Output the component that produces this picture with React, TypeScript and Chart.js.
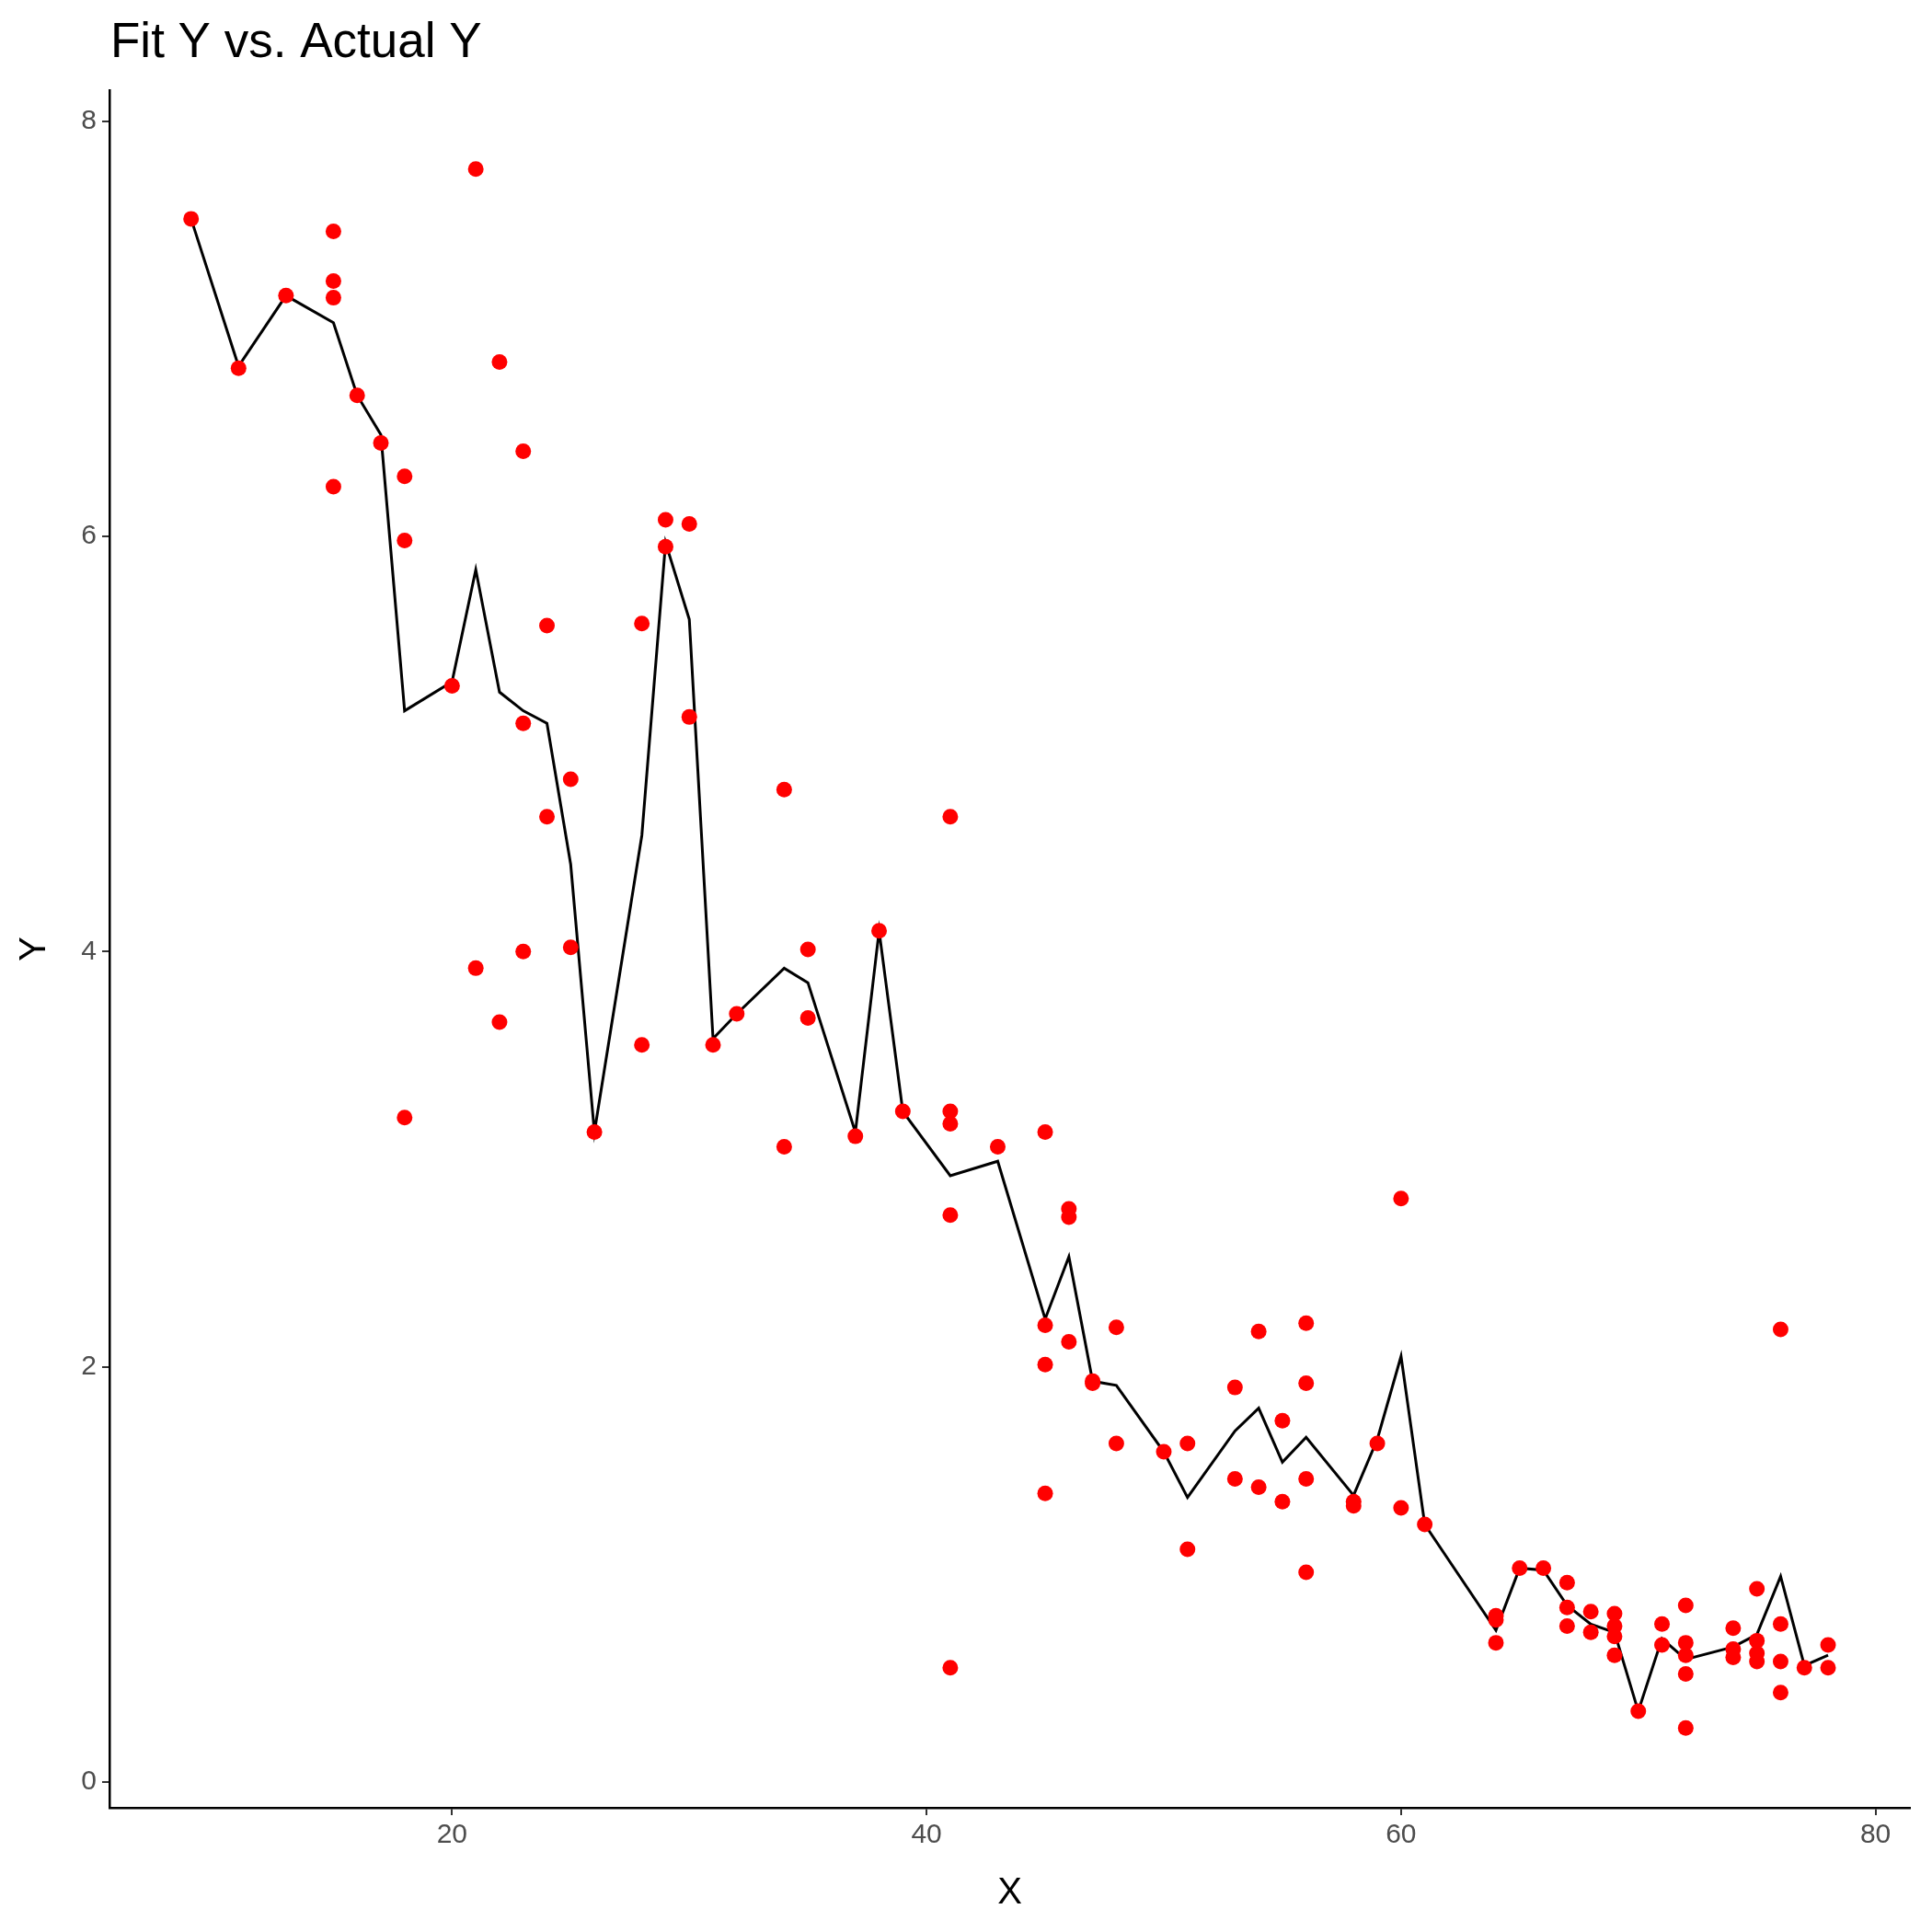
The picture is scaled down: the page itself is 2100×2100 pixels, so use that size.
import { useEffect, useRef } from "react";
import Chart from "chart.js/auto";

// actual observations
const actualX = [9, 11, 13, 15, 15, 15, 15, 16, 17, 18, 18, 18, 20, 21, 21, 22, 22, 23, 23, 23, 24, 24, 25, 25, 26, 28, 28, 29, 29, 30, 30, 31, 32, 34, 34, 35, 35, 37, 38, 39, 41, 41, 41, 41, 41, 43, 45, 45, 45, 45, 46, 46, 46, 47, 47, 48, 48, 50, 51, 51, 53, 53, 54, 54, 55, 55, 56, 56, 56, 56, 58, 58, 59, 60, 60, 61, 64, 64, 64, 65, 66, 67, 67, 67, 68, 68, 69, 69, 69, 69, 70, 71, 71, 72, 72, 72, 72, 72, 74, 74, 74, 75, 75, 75, 75, 76, 76, 76, 76, 77, 78, 78];
const actualY = [7.53, 6.81, 7.16, 7.47, 7.23, 7.15, 6.24, 6.68, 6.45, 6.29, 5.98, 3.2, 5.28, 7.77, 3.92, 6.84, 3.66, 6.41, 5.1, 4.0, 5.57, 4.65, 4.83, 4.02, 3.13, 5.58, 3.55, 6.08, 5.95, 6.06, 5.13, 3.55, 3.7, 4.78, 3.06, 4.01, 3.68, 3.11, 4.1, 3.23, 4.65, 3.23, 3.17, 2.73, 0.55, 3.06, 3.13, 2.2, 2.01, 1.39, 2.76, 2.72, 2.12, 1.93, 1.92, 2.19, 1.63, 1.59, 1.63, 1.12, 1.9, 1.46, 2.17, 1.42, 1.74, 1.35, 2.21, 1.92, 1.46, 1.01, 1.35, 1.33, 1.63, 2.81, 1.32, 1.24, 0.8, 0.78, 0.67, 1.03, 1.03, 0.96, 0.84, 0.75, 0.82, 0.72, 0.81, 0.75, 0.7, 0.61, 0.34, 0.76, 0.66, 0.85, 0.67, 0.61, 0.52, 0.26, 0.74, 0.64, 0.6, 0.93, 0.68, 0.62, 0.58, 2.18, 0.76, 0.58, 0.43, 0.55, 0.66, 0.55];

// fitted line
const fitX = [9, 11, 13, 15, 16, 17, 18, 20, 21, 22, 23, 24, 25, 26, 28, 29, 30, 31, 32, 34, 35, 37, 38, 39, 41, 43, 45, 46, 47, 48, 50, 51, 53, 54, 55, 56, 58, 59, 60, 61, 64, 65, 66, 67, 68, 69, 70, 71, 72, 74, 75, 76, 77, 78];
const fitY = [7.53, 6.82, 7.16, 7.03, 6.68, 6.49, 5.16, 5.3, 5.84, 5.25, 5.16, 5.1, 4.42, 3.13, 4.56, 5.97, 5.6, 3.58, 3.7, 3.92, 3.85, 3.13, 4.1, 3.23, 2.92, 2.99, 2.23, 2.53, 1.93, 1.91, 1.59, 1.37, 1.69, 1.8, 1.54, 1.66, 1.38, 1.65, 2.05, 1.24, 0.73, 1.03, 1.02, 0.85, 0.76, 0.72, 0.34, 0.69, 0.59, 0.65, 0.71, 0.99, 0.56, 0.61];

const xTicks = [20, 40, 60, 80];
const yTicks = [0, 2, 4, 6, 8];

const FONT = "'Liberation Sans', Arial, sans-serif";

const titlePlugin = {
  id: "fixedTitle",
  afterDraw(chart: any) {
    const ctx = chart.ctx;
    ctx.save();
    ctx.fillStyle = "#000";
    ctx.font = `53px ${FONT}`;
    ctx.textBaseline = "alphabetic";
    ctx.fillText("Fit Y vs. Actual Y", 120, 62);
    ctx.restore();
  },
};

const App = () => {
  const ref = useRef<HTMLCanvasElement | null>(null);

  useEffect(() => {
    const ctx = ref.current ? ref.current.getContext("2d") : null;
    if (!ctx) return;
    const chart = new Chart(ctx, {
      type: "scatter",
      data: {
        datasets: [
          {
            data: fitX.map((x, i) => ({ x, y: fitY[i] })),
            showLine: true,
            borderColor: "#000",
            borderWidth: 3,
            pointRadius: 0,
            order: 2,
          },
          {
            data: actualX.map((x, i) => ({ x, y: actualY[i] })),
            backgroundColor: "#ff0000",
            borderWidth: 0,
            pointRadius: 8.5,
            order: 1,
          },
        ],
      },
      options: {
        responsive: false,
        animation: false,
        layout: { padding: { left: 10, right: 24, top: 98, bottom: 14 } },
        plugins: { legend: { display: false }, tooltip: { enabled: false } },
        scales: {
          x: {
            type: "linear",
            min: 5.56,
            max: 81.45,
            afterBuildTicks: (s: any) => {
              s.ticks = xTicks.map((v) => ({ value: v }));
            },
            afterFit: (s: any) => {
              s.height = 121;
            },
            grid: { drawOnChartArea: false, drawTicks: true, tickLength: 8, color: "#333", lineWidth: 2 },
            border: { display: true, color: "#000", width: 2.5 },
            ticks: { color: "#4d4d4d", font: { size: 30, family: FONT }, padding: 4, maxRotation: 0 },
            title: { display: true, text: "X", color: "#000", font: { size: 40, family: FONT }, padding: { top: 0 } },
          },
          y: {
            type: "linear",
            min: -0.125,
            max: 8.15,
            afterBuildTicks: (s: any) => {
              s.ticks = yTicks.map((v) => ({ value: v }));
            },
            afterFit: (s: any) => {
              s.width = 109;
            },
            grid: { drawOnChartArea: false, drawTicks: true, tickLength: 8, color: "#333", lineWidth: 2 },
            border: { display: true, color: "#000", width: 2.5 },
            ticks: { color: "#4d4d4d", font: { size: 30, family: FONT }, padding: 6 },
            title: { display: true, text: "Y", color: "#000", font: { size: 40, family: FONT }, padding: { bottom: 4 } },
          },
        },
      },
      plugins: [titlePlugin],
    });
    return () => {
      chart.destroy();
    };
  }, []);

  return (
    <div style={{ position: "fixed", left: 0, top: 0, width: 2100, height: 2100, background: "#fff" }}>
      <canvas ref={ref} width={2100} height={2100} style={{ width: 2100, height: 2100 }} />
    </div>
  );
};

export default App;
